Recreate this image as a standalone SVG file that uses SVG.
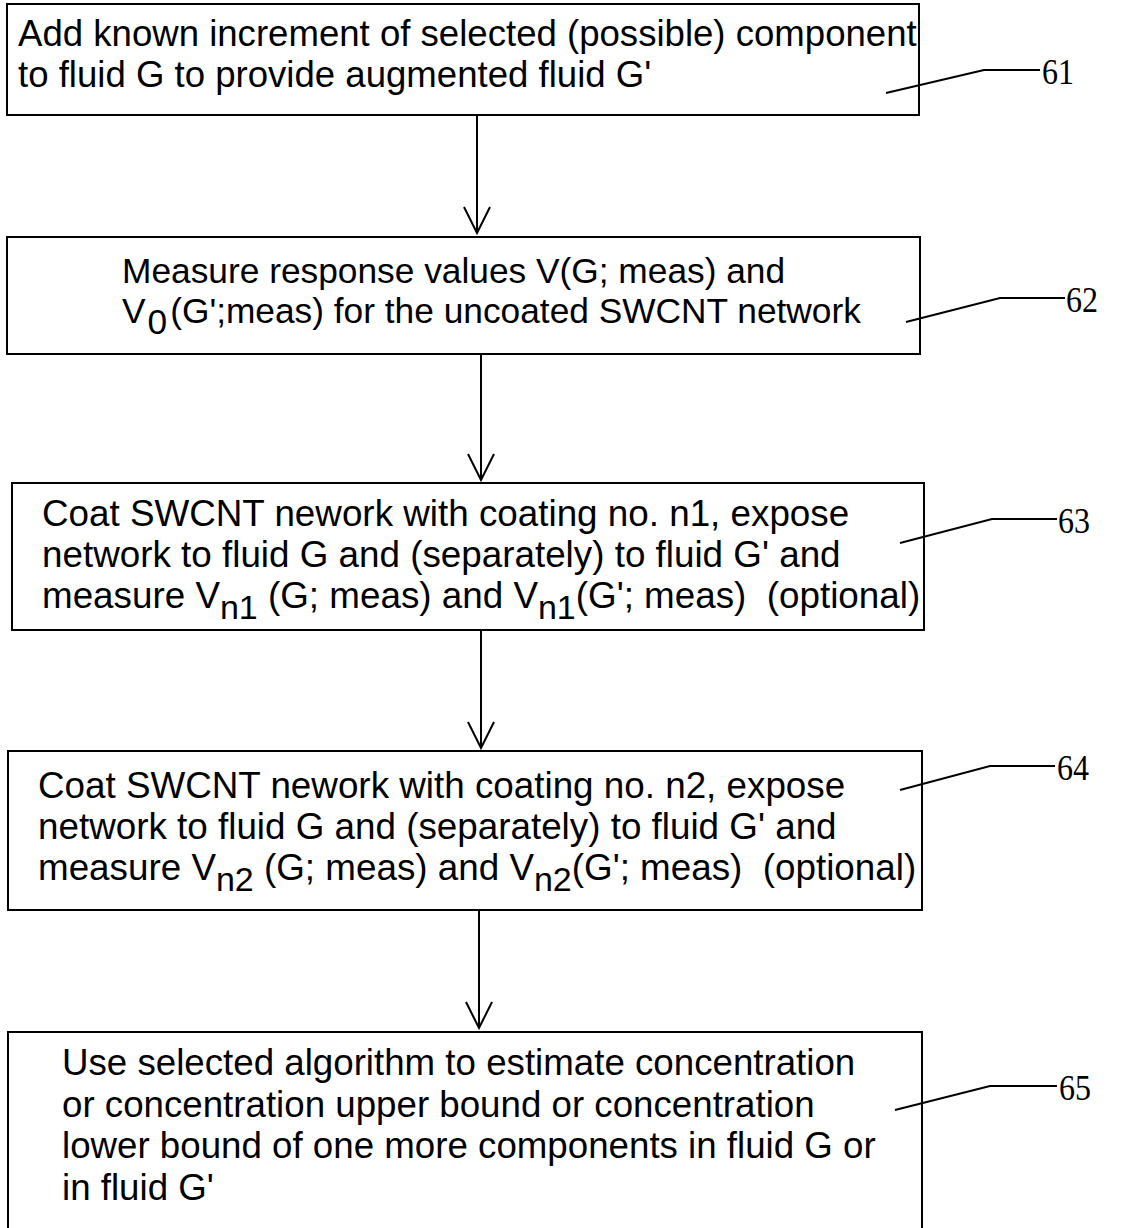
<svg xmlns="http://www.w3.org/2000/svg" width="1125" height="1228" viewBox="0 0 1125 1228">
<style>
.box{fill:#fff;stroke:#000;stroke-width:2}
.t{font-family:"Liberation Sans",Arial,sans-serif;font-size:36.8px;fill:#000;white-space:pre}
.sub{font-size:34px}
.num{font-family:"Liberation Serif","Times New Roman",serif;font-size:36px;fill:#000}
.ln{fill:none;stroke:#000;stroke-width:2}
</style>
<defs>
<marker id="ah" viewBox="0 0 30 30" refX="28" refY="15" markerWidth="30" markerHeight="30" markerUnits="userSpaceOnUse" orient="auto">
<path d="M2,2 L28,15 L2,28" fill="none" stroke="#000" stroke-width="2"/>
</marker>
</defs>
<rect width="1125" height="1228" fill="#fff"/>
<g id="n61">
<rect class="box" x="7" y="4" width="912" height="111"/>
<text class="t" x="18" y="46" style="font-size:36.6px">Add known increment of selected (possible) component</text>
<text class="t" x="18" y="87" style="font-size:36.6px">to fluid G to provide augmented fluid G'</text>
<polyline class="ln" points="886,93 984,70 1040,70"/>
<text class="num" x="1042" y="84" textLength="32" lengthAdjust="spacingAndGlyphs">61</text>
</g>
<g id="n62">
<rect class="box" x="7" y="237" width="913" height="117"/>
<text class="t" x="122" y="283" style="font-size:35.3px">Measure response values V(G; meas) and</text>
<text class="t" x="122" y="323" style="font-size:35.3px">V<tspan dy="11" dx="2">0</tspan><tspan dy="-11" dx="3">(G';meas) for the uncoated SWCNT network</tspan></text>
<polyline class="ln" points="906,322 1000,298 1065,298"/>
<text class="num" x="1066" y="312" textLength="32" lengthAdjust="spacingAndGlyphs">62</text>
</g>
<g id="n63">
<rect class="box" x="12" y="483" width="912" height="147"/>
<text class="t" x="42" y="526">Coat SWCNT nework with coating no. n1, expose</text>
<text class="t" x="42" y="567">network to fluid G and (separately) to fluid G' and</text>
<text class="t" x="42" y="608">measure V<tspan class="sub" dy="11">n1</tspan><tspan dy="-11"> (G; meas) and V</tspan><tspan class="sub" dy="11">n1</tspan><tspan dy="-11">(G'; meas)  (optional)</tspan></text>
<polyline class="ln" points="900,543 992,519 1057,519"/>
<text class="num" x="1058" y="533" textLength="32" lengthAdjust="spacingAndGlyphs">63</text>
</g>
<g id="n64">
<rect class="box" x="8" y="751" width="914" height="159"/>
<text class="t" x="38" y="798">Coat SWCNT nework with coating no. n2, expose</text>
<text class="t" x="38" y="839">network to fluid G and (separately) to fluid G' and</text>
<text class="t" x="38" y="880">measure V<tspan class="sub" dy="11">n2</tspan><tspan dy="-11"> (G; meas) and V</tspan><tspan class="sub" dy="11">n2</tspan><tspan dy="-11">(G'; meas)  (optional)</tspan></text>
<polyline class="ln" points="900,790 990,766 1055,766"/>
<text class="num" x="1057" y="780" textLength="32" lengthAdjust="spacingAndGlyphs">64</text>
</g>
<g id="n65">
<rect class="box" x="8" y="1032" width="914" height="200"/>
<text class="t" x="62" y="1075" style="font-size:36.7px">Use selected algorithm to estimate concentration</text>
<text class="t" x="62" y="1117" style="font-size:36.7px">or concentration upper bound or concentration</text>
<text class="t" x="62" y="1158" style="font-size:36.7px">lower bound of one more components in fluid G or</text>
<text class="t" x="62" y="1200" style="font-size:36.7px">in fluid G'</text>
<polyline class="ln" points="895,1110 990,1086 1057,1086"/>
<text class="num" x="1059" y="1100" textLength="32" lengthAdjust="spacingAndGlyphs">65</text>
</g>
<g id="connectors">
<line class="ln" x1="477" y1="115" x2="477" y2="233" marker-end="url(#ah)"/>
<line class="ln" x1="481" y1="354" x2="481" y2="480" marker-end="url(#ah)"/>
<line class="ln" x1="481" y1="630" x2="481" y2="748" marker-end="url(#ah)"/>
<line class="ln" x1="479" y1="910" x2="479" y2="1028" marker-end="url(#ah)"/>
</g>
</svg>
